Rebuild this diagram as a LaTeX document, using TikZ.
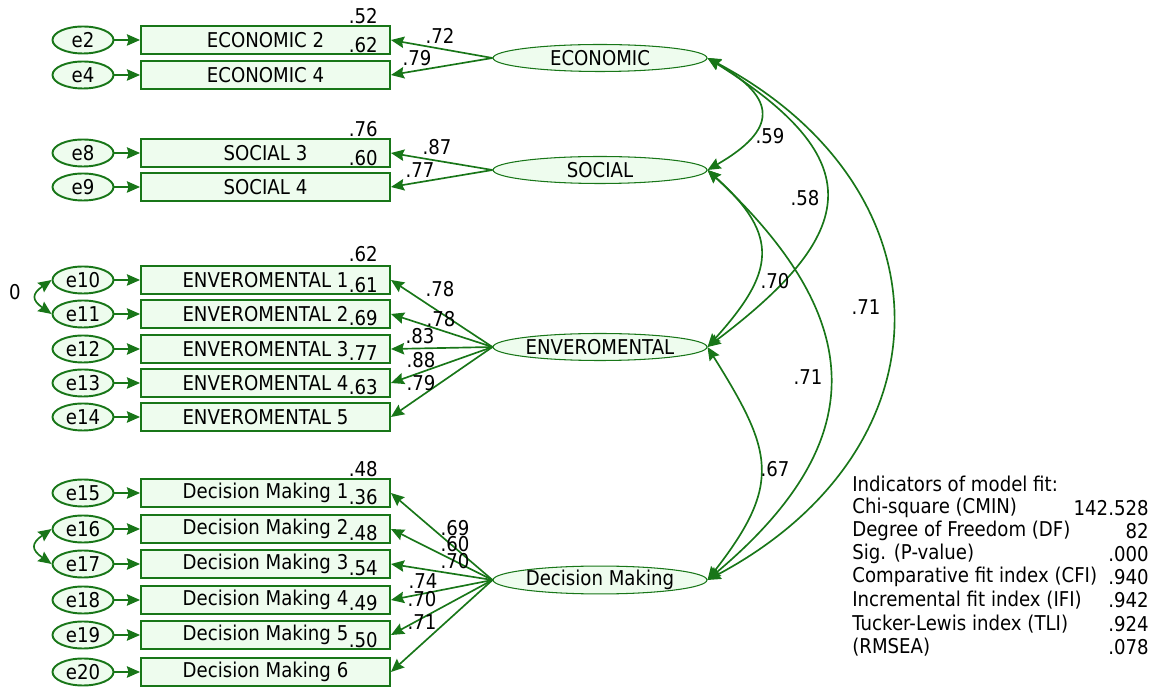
\documentclass[tikz,border=0pt]{standalone}
\usepackage{fontspec}
\setmainfont{DejaVu Sans}[FakeStretch=0.89]
\usepackage{xcolor}
\usetikzlibrary{arrows.meta, shapes.geometric}

\definecolor{amosgreen}{RGB}{24,118,24}
\definecolor{amosfill}{RGB}{238,252,238}

\begin{document}
\begin{tikzpicture}[
    x=0.02cm, y=-0.02cm,
    font=\fontsize{11.6}{13}\selectfont,
    indicator/.style={rectangle, draw=amosgreen, fill=amosfill, line width=1.1pt, minimum width=4.98cm, minimum height=0.56cm, inner sep=0pt},
    errvar/.style={ellipse, draw=amosgreen, fill=amosfill, line width=1.1pt, minimum width=1.22cm, minimum height=0.54cm, inner sep=0pt},
    latent/.style={ellipse, draw=amosgreen, fill=amosfill, line width=0.6pt, minimum width=4.28cm, minimum height=0.54cm, inner sep=0pt},
    est/.style={inner sep=0pt},
    arrow/.style={-{Stealth[length=7.5pt,width=6.5pt,inset=1pt]}, draw=amosgreen, line width=0.95pt},
    covar/.style={{Stealth[length=7.5pt,width=6.5pt,inset=1pt]}-{Stealth[length=7.5pt,width=6.5pt,inset=1pt]}, draw=amosgreen, line width=0.95pt}
]
\useasboundingbox (0,0) rectangle (1156,688);

% Latent factors
\node[latent] (economic) at (600,58) {ECONOMIC};
\node[latent] (social) at (600,170) {SOCIAL};
\node[latent] (enviro) at (600,347) {ENVEROMENTAL};
\node[latent] (decision) at (600,580) {Decision Making};

% Economic indicators
\node[errvar] (e2) at (83,40) {e2};
\node[errvar] (e4) at (83,75) {e4};
\node[indicator] (econ2) at (265.5,40) {ECONOMIC 2};
\node[indicator] (econ4) at (265.5,75) {ECONOMIC 4};

% Social indicators
\node[errvar] (e8) at (83,153) {e8};
\node[errvar] (e9) at (83,187) {e9};
\node[indicator] (soc3) at (265.5,153) {SOCIAL 3};
\node[indicator] (soc4) at (265.5,187) {SOCIAL 4};

% Enviromental indicators
\node[errvar] (e10) at (83,280) {e10};
\node[errvar] (e11) at (83,314) {e11};
\node[errvar] (e12) at (83,349) {e12};
\node[errvar] (e13) at (83,383) {e13};
\node[errvar] (e14) at (83,417) {e14};
\node[indicator] (env1) at (265.5,280) {ENVEROMENTAL 1};
\node[indicator] (env2) at (265.5,314) {ENVEROMENTAL 2};
\node[indicator] (env3) at (265.5,349) {ENVEROMENTAL 3};
\node[indicator] (env4) at (265.5,383) {ENVEROMENTAL 4};
\node[indicator] (env5) at (265.5,417) {ENVEROMENTAL 5};

% Decision making indicators
\node[errvar] (e15) at (83,493) {e15};
\node[errvar] (e16) at (83,529) {e16};
\node[errvar] (e17) at (83,564) {e17};
\node[errvar] (e18) at (83,600) {e18};
\node[errvar] (e19) at (83,635) {e19};
\node[errvar] (e20) at (83,672) {e20};
\node[indicator] (dm1) at (265.5,493) {Decision Making 1};
\node[indicator] (dm2) at (265.5,529) {Decision Making 2};
\node[indicator] (dm3) at (265.5,564) {Decision Making 3};
\node[indicator] (dm4) at (265.5,600) {Decision Making 4};
\node[indicator] (dm5) at (265.5,635) {Decision Making 5};
\node[indicator] (dm6) at (265.5,672) {Decision Making 6};

% Arrows - errors to indicators
\draw[arrow] (e2) -- (econ2);
\draw[arrow] (e4) -- (econ4);
\draw[arrow] (e8) -- (soc3);
\draw[arrow] (e9) -- (soc4);
\draw[arrow] (e10) -- (env1);
\draw[arrow] (e11) -- (env2);
\draw[arrow] (e12) -- (env3);
\draw[arrow] (e13) -- (env4);
\draw[arrow] (e14) -- (env5);
\draw[arrow] (e15) -- (dm1);
\draw[arrow] (e16) -- (dm2);
\draw[arrow] (e17) -- (dm3);
\draw[arrow] (e18) -- (dm4);
\draw[arrow] (e19) -- (dm5);
\draw[arrow] (e20) -- (dm6);

% Arrows - factors to indicators
\draw[arrow] (economic.west) -- (econ2.east);
\draw[arrow] (economic.west) -- (econ4.east);
\draw[arrow] (social.west) -- (soc3.east);
\draw[arrow] (social.west) -- (soc4.east);
\draw[arrow] (enviro.west) -- (env1.east);
\draw[arrow] (enviro.west) -- (env2.east);
\draw[arrow] (enviro.west) -- (env3.east);
\draw[arrow] (enviro.west) -- (env4.east);
\draw[arrow] (enviro.west) -- (env5.east);
\draw[arrow] (decision.west) -- (dm1.east);
\draw[arrow] (decision.west) -- (dm2.east);
\draw[arrow] (decision.west) -- (dm3.east);
\draw[arrow] (decision.west) -- (dm4.east);
\draw[arrow] (decision.west) -- (dm5.east);
\draw[arrow] (decision.west) -- (dm6.east);

% Error covariances
\draw[covar] (e10.west) to[out=215, in=145, looseness=1.83] (e11.west);
\draw[covar] (e16.west) to[out=215, in=145, looseness=1.83] (e17.west);
\node[est] (cov1011) at (15,292) {0};

% Factor covariances
\draw[covar] (economic.east) to[out=-30, in=30, looseness=1.86] (social.east);
\draw[covar] (economic.east) to[out=-32, in=37, looseness=1.70] (enviro.east);
\draw[covar] (economic.east) to[out=-28, in=28, looseness=1.37] (decision.east);
\draw[covar] (social.east) to[out=-42, in=48, looseness=1.44] (enviro.east);
\draw[covar] (social.east) to[out=-43, in=40, looseness=1.36] (decision.east);
\draw[covar] (enviro.east) to[out=-58, in=52, looseness=1.35] (decision.east);
\node[est] (covecsoc) at (770,136) {.59};
\node[est] (covecenv) at (805,198) {.58};
\node[est] (covsocenv) at (775,281) {.70};
\node[est] (covecdm) at (866,307) {.71};
\node[est] (covsocdm) at (808,377) {.71};
\node[est] (covenvdm) at (775,469) {.67};

% Squared multiple correlations
\node[est, anchor=east] (econ2r) at (378,16) {.52};
\node[est, anchor=east] (econ4r) at (378,45) {.62};
\node[est, anchor=east] (soc3r) at (378,129) {.76};
\node[est, anchor=east] (soc4r) at (378,158) {.60};
\node[est, anchor=east] (env1r) at (378,254) {.62};
\node[est, anchor=east] (env2r) at (378,285) {.61};
\node[est, anchor=east] (env3r) at (378,318) {.69};
\node[est, anchor=east] (env4r) at (378,353) {.77};
\node[est, anchor=east] (env5r) at (378,387) {.63};
\node[est, anchor=east] (dm1r) at (378,469) {.48};
\node[est, anchor=east] (dm2r) at (378,497) {.36};
\node[est, anchor=east] (dm3r) at (378,533) {.48};
\node[est, anchor=east] (dm4r) at (378,568) {.54};
\node[est, anchor=east] (dm5r) at (378,603) {.49};
\node[est, anchor=east] (dm6r) at (378,640) {.50};

% Standardized loadings
\node[est] (econ2l) at (440,36) {.72};
\node[est] (econ4l) at (417,58) {.79};
\node[est] (soc3l) at (437,147) {.87};
\node[est] (soc4l) at (420,170) {.77};
\node[est] (env1l) at (440,289) {.78};
\node[est] (env2l) at (441,319) {.78};
\node[est] (env3l) at (420,336) {.83};
\node[est] (env4l) at (421,360) {.88};
\node[est] (env5l) at (421,383) {.79};
\node[est] (dm1l) at (455,528) {.69};
\node[est] (dm2l) at (455,544) {.60};
\node[est] (dm3l) at (455,561) {.70};
\node[est] (dm4l) at (423,581) {.74};
\node[est] (dm5l) at (422,599) {.70};
\node[est] (dm6l) at (422,622) {.71};

% Model fit
\node[est, anchor=west] (fit0) at (852,484) {Indicators of model fit:};
\node[est, anchor=west] (fit1) at (852,508) {Chi-square (CMIN)};
\node[est, anchor=west] (fit2) at (852,531) {Degree of Freedom (DF)};
\node[est, anchor=west] (fit3) at (852,554) {Sig. (P-value)};
\node[est, anchor=west] (fit4) at (852,577) {Comparative fit index (CFI)};
\node[est, anchor=west] (fit5) at (852,600) {Incremental fit index (IFI)};
\node[est, anchor=west] (fit6) at (852,624) {Tucker-Lewis index (TLI)};
\node[est, anchor=west] (fit7) at (852,647) {(RMSEA)};
\node[est, anchor=east] (val1) at (1149,508) {142.528};
\node[est, anchor=east] (val2) at (1149,531) {82};
\node[est, anchor=east] (val3) at (1149,554) {.000};
\node[est, anchor=east] (val4) at (1149,577) {.940};
\node[est, anchor=east] (val5) at (1149,600) {.942};
\node[est, anchor=east] (val6) at (1149,624) {.924};
\node[est, anchor=east] (val7) at (1149,647) {.078};

\end{tikzpicture}
\end{document}
